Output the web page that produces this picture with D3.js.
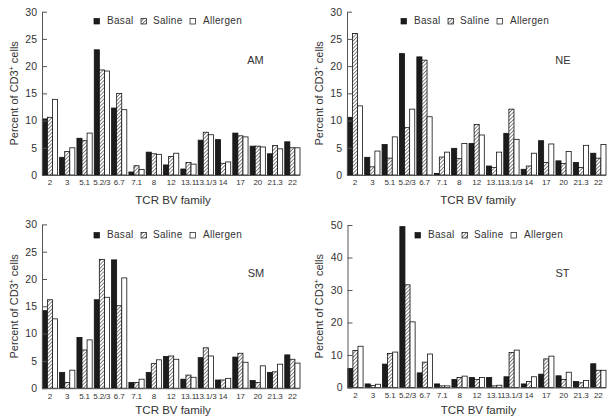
<!DOCTYPE html>
<html>
<head>
<meta charset="utf-8">
<script src="https://cdn.jsdelivr.net/npm/d3@7"></script>
<style>
  html, body { margin: 0; padding: 0; background: #fff; }
  svg { display: block; font-family: "Liberation Sans", Arial, Helvetica, sans-serif; }
</style>
</head>
<body>
<script>
// ---------- data ----------
const categories = ["2","3","5.1","5.2/3","6.7","7.1","8","12","13.1","13.1/3","14","17","20","21.3","22"];
const seriesNames = ["Basal","Saline","Allergen"];

const amBasal    = [10.3, 3.25, 6.75, 23.0, 12.3, 0.55, 4.2, 1.85, 1.1, 6.4, 6.5, 7.7, 5.3, 3.9, 6.1];
const amSaline   = [10.6, 4.3, 6.3, 19.3, 15.0, 1.7, 3.9, 3.4, 2.3, 7.85, 2.15, 7.2, 5.3, 5.4, 5.0];
const amAllergen = [13.9, 5.0, 7.7, 19.1, 12.0, 1.0, 3.8, 4.0, 2.0, 7.4, 2.4, 7.0, 5.15, 4.8, 5.0];

const neBasal    = [10.6, 3.25, 5.6, 22.3, 21.7, 0.3, 4.9, 5.8, 1.65, 7.65, 1.05, 6.3, 2.6, 2.3, 4.0];
const neSaline   = [26.0, 1.5, 3.1, 8.7, 21.1, 3.3, 3.0, 9.3, 1.4, 12.1, 1.65, 2.3, 2.1, 1.4, 3.1];
const neAllergen = [12.7, 4.4, 7.0, 12.1, 10.7, 4.2, 5.8, 7.35, 4.2, 6.55, 4.0, 5.7, 4.3, 5.45, 5.6];

const smBasal    = [14.2, 2.9, 9.3, 16.2, 23.5, 1.05, 2.9, 5.8, 1.65, 5.6, 1.5, 5.7, 1.4, 2.9, 6.1];
const smSaline   = [16.2, 1.05, 7.0, 23.6, 15.1, 1.05, 4.5, 5.9, 2.4, 7.4, 1.5, 6.4, 1.05, 3.0, 5.3];
const smAllergen = [12.7, 3.3, 8.85, 16.65, 20.2, 1.65, 5.2, 5.3, 2.0, 5.9, 1.8, 4.75, 4.1, 4.4, 4.6];

const stBasal    = [5.85, 1.1, 7.2, 49.5, 4.5, 1.1, 2.5, 3.1, 3.1, 3.3, 1.1, 4.1, 3.6, 1.85, 7.3];
const stSaline   = [11.4, 0.6, 10.5, 31.6, 7.8, 0.5, 3.1, 2.5, 0.5, 10.8, 1.85, 8.8, 2.5, 1.45, 5.3];
const stAllergen = [12.7, 1.0, 10.9, 20.2, 10.3, 0.5, 3.5, 3.1, 0.7, 11.5, 3.3, 9.65, 4.7, 2.15, 5.3];

const panelNames = ["AM","NE","SM","ST"];
const yMax = [30, 30, 30, 50];
const yStep = [5, 5, 5, 10];
const xTitle = "TCR BV family";

// ---------- layout ----------
const W = 609, H = 419;
const layout = [
  {x0: 42,    x1: 300, top: 11.7,  base: 175,   legX: 94,  legY: 24,  labX: 255.5, labY: 64,  titleY: 204},
  {x0: 347,   x1: 606, top: 11.7,  base: 175,   legX: 401, legY: 24,  labX: 563,   labY: 64,  titleY: 204},
  {x0: 42,    x1: 300, top: 224.4, base: 388.2, legX: 94,  legY: 238, labX: 256,   labY: 277, titleY: 414},
  {x0: 347.5, x1: 606, top: 225,   base: 387.5, legX: 415, legY: 238, labX: 562.5, labY: 277, titleY: 414}
];
const panelData = [
  [amBasal, amSaline, amAllergen],
  [neBasal, neSaline, neAllergen],
  [smBasal, smSaline, smAllergen],
  [stBasal, stSaline, stAllergen]
];

const svg = d3.select("body").append("svg").attr("width", W).attr("height", H);

const defs = svg.append("defs");
const pat = defs.append("pattern").attr("id", "hatch")
  .attr("patternUnits", "userSpaceOnUse").attr("width", 2.6).attr("height", 2.6)
  .attr("patternTransform", "rotate(45)");
pat.append("rect").attr("width", 2.6).attr("height", 2.6).attr("fill", "#fff");
pat.append("line").attr("x1", 0).attr("y1", 0).attr("x2", 0).attr("y2", 2.6)
  .attr("stroke", "#222").attr("stroke-width", 1.1);

const fills = {Basal: "#1c1c1c", Saline: "url(#hatch)", Allergen: "#fff"};
const textCol = "#333";
const axisCol = "#555";

panelNames.forEach((name, pi) => {
  const L = layout[pi];
  const g = svg.append("g");
  const x = d3.scaleBand().domain(categories).range([L.x0 + 0.3, L.x1]).paddingInner(0.12).paddingOuter(0);
  const xs = d3.scaleBand().domain(seriesNames).range([0, x.bandwidth()]).padding(0);
  const y = d3.scaleLinear().domain([0, yMax[pi]]).range([L.base, L.top]);

  // bars
  seriesNames.forEach((s, si) => {
    const vals = panelData[pi][si];
    g.append("g").selectAll("rect").data(categories).join("rect")
      .attr("x", (c) => x(c) + xs(s))
      .attr("y", (c, i) => y(vals[i]))
      .attr("width", xs.bandwidth())
      .attr("height", (c, i) => y(0) - y(vals[i]))
      .attr("fill", fills[s])
      .attr("stroke", "#111")
      .attr("stroke-width", 0.8);
  });

  // y axis
  const ya = g.append("g").attr("transform", `translate(${L.x0},0)`)
    .call(d3.axisLeft(y).tickValues(d3.range(0, yMax[pi] + 0.001, yStep[pi]))
      .tickSize(-5).tickSizeOuter(0).tickPadding(5));
  ya.select(".domain").attr("stroke", axisCol);
  ya.selectAll(".tick line").attr("stroke", axisCol);
  ya.selectAll(".tick text").attr("fill", textCol).attr("font-size", 10.5)
    .attr("font-family", "Liberation Sans, Arial, sans-serif");

  // x axis
  const xa = g.append("g").attr("transform", `translate(0,${L.base})`)
    .call(d3.axisBottom(x).tickSize(0).tickPadding(4.8));
  xa.select(".domain").attr("stroke", axisCol).attr("d", `M${L.x0},0.5H${L.x1}`);
  xa.selectAll(".tick text").attr("fill", textCol).attr("font-size", 8)
    .attr("letter-spacing", -0.15)
    .attr("font-family", "Liberation Sans, Arial, sans-serif");

  // x title
  g.append("text").attr("x", 173 + (L.x0 - 42)).attr("y", L.titleY)
    .attr("text-anchor", "middle").attr("font-size", 11.5).attr("fill", textCol)
    .text(xTitle);

  // y title
  const yt = g.append("text")
    .attr("transform", `translate(${17.5 + (L.x0 - 42)},${(L.top + L.base) / 2}) rotate(-90)`)
    .attr("text-anchor", "middle").attr("font-size", 11).attr("fill", textCol);
  yt.append("tspan").text("Percent of CD3");
  yt.append("tspan").attr("font-size", 7).attr("dy", -4).text("+");
  yt.append("tspan").attr("dy", 4).text(" cells");

  // panel label
  g.append("text").attr("x", L.labX).attr("y", L.labY).attr("text-anchor", "middle")
    .attr("font-size", 11).attr("fill", textCol).text(name);

  // legend
  const offs = [[0, 13], [47, 59], [96, 109]];
  seriesNames.forEach((s, si) => {
    g.append("rect").attr("x", L.legX + offs[si][0]).attr("y", L.legY - 5.5)
      .attr("width", 5.5).attr("height", 5.5)
      .attr("fill", fills[s]).attr("stroke", "#111").attr("stroke-width", 0.7);
    g.append("text").attr("x", L.legX + offs[si][1]).attr("y", L.legY)
      .attr("font-size", 10).attr("fill", textCol).attr("letter-spacing", 0.3).text(s);
  });
});
</script>
</body>
</html>
